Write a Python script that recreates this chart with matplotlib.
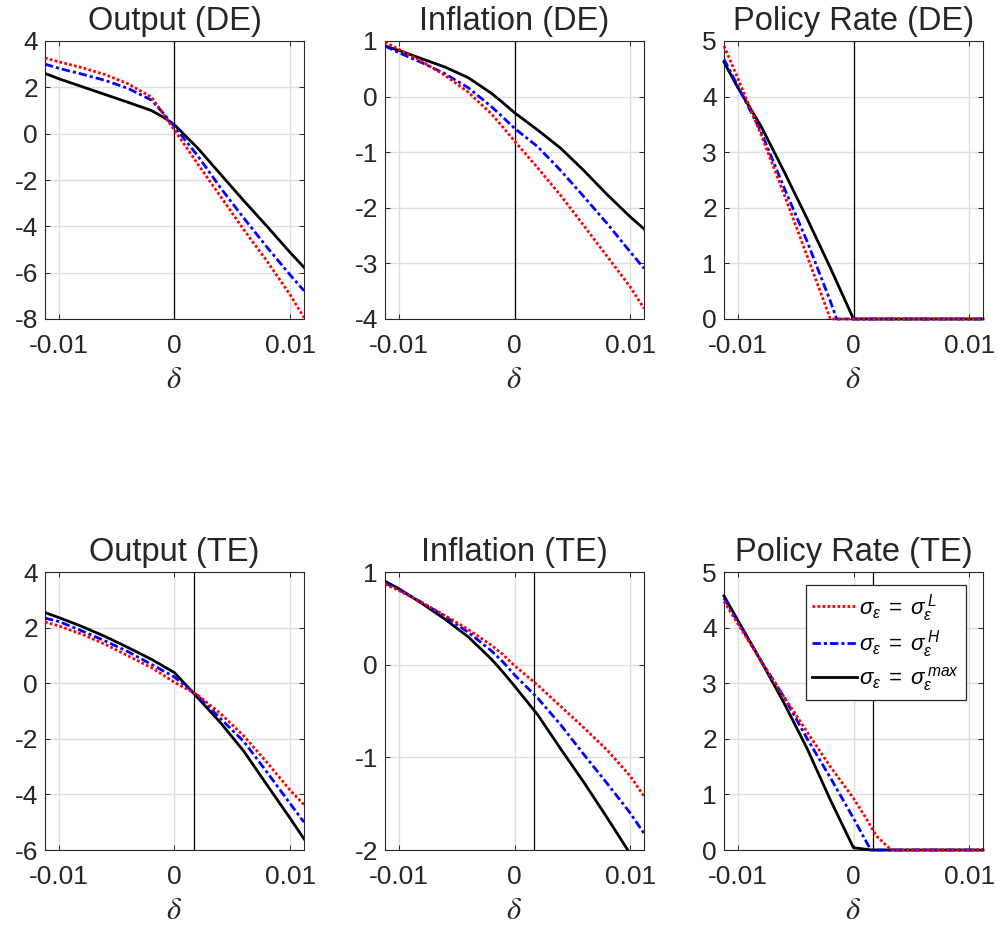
import matplotlib
matplotlib.use('Agg')
import matplotlib.pyplot as plt

plt.rcParams['font.family'] = ['Liberation Sans', 'DejaVu Sans']
plt.rcParams['axes.unicode_minus'] = False
plt.rcParams['mathtext.fontset'] = 'custom'
plt.rcParams['mathtext.rm'] = 'Liberation Sans'
plt.rcParams['mathtext.it'] = 'Liberation Sans:italic'

# ---------------- data ----------------
delta = [-0.0112, -0.01, -0.008, -0.006, -0.004, -0.002, -0.001, 0.0,
         0.002, 0.004, 0.006, 0.008, 0.01, 0.0112]

# Output (DE)
out_de_L = [3.27, 3.1, 2.85, 2.55, 2.15, 1.58, 0.88, 0.15, -1.3, -2.72, -4.15, -5.5, -6.95, -7.94]
out_de_H = [3.0, 2.82, 2.57, 2.3, 1.95, 1.45, 0.9, 0.3, -0.95, -2.35, -3.65, -4.9, -6.1, -6.78]
out_de_max = [2.6, 2.37, 2.03, 1.69, 1.35, 1.0, 0.72, 0.38, -0.62, -1.76, -2.9, -4.0, -5.13, -5.77]

# Inflation (DE)
inf_de_L = [0.98, 0.85, 0.63, 0.38, 0.08, -0.31, -0.55, -0.8, -1.28, -1.78, -2.32, -2.87, -3.42, -3.81]
inf_de_H = [0.91, 0.79, 0.61, 0.41, 0.16, -0.18, -0.37, -0.57, -0.9, -1.33, -1.8, -2.28, -2.79, -3.09]
inf_de_max = [0.91, 0.83, 0.68, 0.53, 0.34, 0.06, -0.11, -0.29, -0.6, -0.93, -1.33, -1.76, -2.16, -2.38]

# Policy Rate (DE)
pr_de_L_x = [-0.0112, -0.01, -0.008, -0.006, -0.004, -0.002, 0.0112]
pr_de_L = [4.91, 4.33, 3.32, 2.24, 1.13, 0.0, 0.0]
pr_de_H_x = [-0.0112, -0.01, -0.008, -0.006, -0.004, -0.002, -0.00145, 0.0112]
pr_de_H = [4.67, 4.19, 3.37, 2.36, 1.39, 0.32, 0.0, 0.0]
pr_de_max_x = [-0.0112, -0.01, -0.008, -0.006, -0.004, -0.002, 0.0, 0.0112]
pr_de_max = [4.62, 4.16, 3.47, 2.65, 1.8, 0.92, 0.0, 0.0]

# Output (TE)
out_te_L = [2.2, 2.06, 1.76, 1.4, 0.98, 0.56, 0.3, 0.03, -0.42, -1.1, -1.9, -2.85, -3.85, -4.37]
out_te_H = [2.34, 2.22, 1.88, 1.52, 1.13, 0.68, 0.45, 0.22, -0.45, -1.28, -2.1, -3.2, -4.33, -5.0]
out_te_max = [2.54, 2.36, 2.04, 1.68, 1.28, 0.86, 0.62, 0.38, -0.52, -1.43, -2.45, -3.66, -4.86, -5.6]

# Inflation (TE)
inf_te_L = [0.87, 0.8, 0.67, 0.53, 0.38, 0.21, 0.11, -0.01, -0.22, -0.45, -0.68, -0.92, -1.2, -1.42]
inf_te_H = [0.88, 0.81, 0.67, 0.52, 0.35, 0.15, 0.03, -0.11, -0.36, -0.65, -0.97, -1.28, -1.6, -1.82]
inf_te_max = [0.9, 0.82, 0.66, 0.49, 0.3, 0.06, -0.08, -0.23, -0.54, -0.91, -1.27, -1.65, -2.04, -2.3]

# Policy Rate (TE)
pr_te_L_x = [-0.0112, -0.01, -0.008, -0.006, -0.004, -0.002, 0.0, 0.001, 0.002, 0.003, 0.0035, 0.0112]
pr_te_L = [4.47, 4.07, 3.4, 2.75, 2.12, 1.5, 0.93, 0.6, 0.25, 0.05, 0.0, 0.0]
pr_te_H_x = [-0.0112, -0.01, -0.008, -0.006, -0.004, -0.002, 0.0, 0.0015, 0.0112]
pr_te_H = [4.53, 4.1, 3.4, 2.75, 2.0, 1.3, 0.57, 0.0, 0.0]
pr_te_max_x = [-0.0112, -0.01, -0.008, -0.006, -0.004, -0.002, 0.0, 0.0016, 0.0112]
pr_te_max = [4.57, 4.13, 3.4, 2.64, 1.82, 0.9, 0.04, 0.0, 0.0]

vline_de = 0.0
vline_te = 0.00165

titles = ['Output (DE)', 'Inflation (DE)', 'Policy Rate (DE)',
          'Output (TE)', 'Inflation (TE)', 'Policy Rate (TE)']
ylims = [(-8, 4), (-4, 1), (0, 5), (-6, 4), (-2, 1), (0, 5)]
ysteps = [2, 1, 1, 2, 1, 1]
xticks = [-0.01, 0, 0.01]
xticklabels = ['-0.01', '0', '0.01']
legend_labels = [r'$\sigma_\epsilon\;=\;\sigma_\epsilon^{\,L}$',
                 r'$\sigma_\epsilon\;=\;\sigma_\epsilon^{\,H}$',
                 r'$\sigma_\epsilon\;=\;\sigma_\epsilon^{\,max}$']

panels = [
    ((delta, out_de_L), (delta, out_de_H), (delta, out_de_max), vline_de),
    ((delta, inf_de_L), (delta, inf_de_H), (delta, inf_de_max), vline_de),
    ((pr_de_L_x, pr_de_L), (pr_de_H_x, pr_de_H), (pr_de_max_x, pr_de_max), vline_de),
    ((delta, out_te_L), (delta, out_te_H), (delta, out_te_max), vline_te),
    ((delta, inf_te_L), (delta, inf_te_H), (delta, inf_te_max), vline_te),
    ((pr_te_L_x, pr_te_L), (pr_te_H_x, pr_te_H), (pr_te_max_x, pr_te_max), vline_te),
]

# ---------------- layout ----------------
W, H = 998, 933
fig = plt.figure(figsize=(W / 100, H / 100), dpi=100)
col_left = [45, 385, 724]
row_bottom = [319, 850]
aw, ah = 259, 278

DARK = '#262626'
lw = 2.0

for i, (pL, pH, pM, xv) in enumerate(panels):
    r, c = divmod(i, 3)
    ax = fig.add_axes([col_left[c] / W, 1 - row_bottom[r] / H, aw / W, ah / H])
    ax.set_xlim(-0.0112, 0.0112)
    lo, hi = ylims[i]
    ax.set_ylim(lo, hi)
    ax.set_xticks(xticks)
    ax.set_xticklabels(xticklabels)
    ticks = list(range(lo, hi + 1, ysteps[i]))
    ax.set_yticks(ticks)
    ax.set_yticklabels([str(t) for t in ticks])
    ax.grid(True, color='#dedede', lw=1.0)
    ax.set_axisbelow(True)
    ax.tick_params(direction='in', top=True, right=True, length=3.6, width=0.7,
                   labelsize=19, colors=DARK)
    ax.tick_params(axis='x', pad=11)
    ax.tick_params(axis='y', pad=5)
    for s in ax.spines.values():
        s.set_color(DARK)
        s.set_linewidth(0.8)
    ax.axvline(xv, color='black', lw=0.9, zorder=2)
    clip = (i % 3 != 2)
    hM, = ax.plot(pM[0], pM[1], color='black', lw=lw, ls='-', zorder=3, clip_on=clip)
    hH, = ax.plot(pH[0], pH[1], color='blue', lw=lw, zorder=4, clip_on=clip,
                  dashes=(3.0, 1.1, 1.1, 1.1))
    hL, = ax.plot(pL[0], pL[1], color='red', lw=lw, zorder=5, clip_on=clip,
                  dashes=(1.0, 0.8))
    ax.set_title(titles[i], fontsize=23.5, color=DARK, pad=8)
    ax.set_xlabel(r'$\delta$', fontsize=22, color=DARK, math_fontfamily='stix', labelpad=5)
    if i == 5:
        leg = ax.legend([hL, hH, hM], legend_labels, loc='upper left',
                        bbox_to_anchor=(0.315, 0.953), borderaxespad=0,
                        fontsize=16, labelspacing=0.22, handlelength=2.0,
                        handletextpad=0.1, borderpad=0.3, fancybox=False,
                        framealpha=1, edgecolor=DARK)
        leg.get_frame().set_linewidth(0.9)

fig.savefig('out.png', dpi=100)
